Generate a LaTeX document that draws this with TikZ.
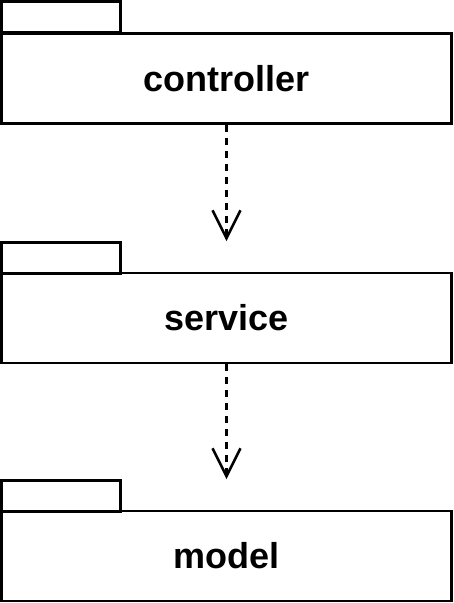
\documentclass[tikz,border=0pt]{standalone}
\usepackage{fontspec}
\setmainfont{Liberation Sans}
\usetikzlibrary{arrows.meta}

\begin{document}
\begin{tikzpicture}[x=1pt,y=-1pt,line width=2.6pt]
\tikzstyle{every node}+=[inner sep=0pt]
\tikzstyle{pkgbody}=[draw,minimum width=450pt,minimum height=90pt,font=\fontsize{36}{40}\selectfont\bfseries]
\tikzstyle{pkgtab}=[draw,minimum width=119pt,minimum height=31pt]
\tikzstyle{dep}=[dash pattern=on 7pt off 6pt,-{Straight Barb[length=28pt,width=28pt]}]
\useasboundingbox (0,0) rectangle (453,603);
% packages
\node [pkgtab] (ctab) at (61,17) {};
\node [pkgbody] (controller) at (226.5,78.5) {controller};
\node [pkgtab] (stab) at (61,258) {};
\node [pkgbody] (service) at (226.5,318) {service};
\node [pkgtab] (mtab) at (61,496) {};
\node [pkgbody] (model) at (226.5,556) {model};
% dependencies
\draw [dep] (controller.south) -- (controller.south |- stab.north);
\draw [dep] (service.south) -- (service.south |- mtab.north);
\end{tikzpicture}
\end{document}
